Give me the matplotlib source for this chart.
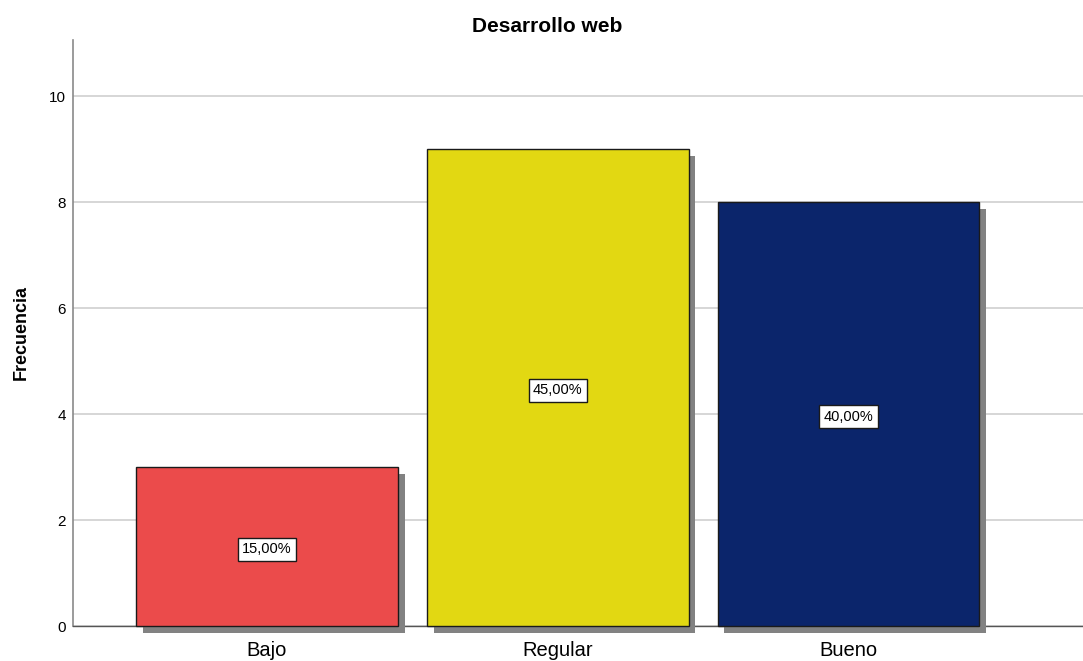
import matplotlib
matplotlib.use("Agg")
import matplotlib.pyplot as plt
import matplotlib.patheffects as pe

plt.rcParams['font.family'] = ['Liberation Sans', 'DejaVu Sans']

# datos de frecuencia
categorias = ["Bajo", "Regular", "Bueno"]
frecuencias = [3, 9, 8]
porcentajes = ["15,00%", "45,00%", "40,00%"]
colores = ["#EB4B4B", "#E2D812", "#0B256B"]

fig = plt.figure(figsize=(10.83, 6.61), dpi=100)
ax = fig.add_axes([73 / 1083, 35 / 661, 1 - 73 / 1083, 586 / 661])

pos = list(range(len(categorias)))
sombra = [pe.SimplePatchShadow(offset=(4.8, -5.0), shadow_rgbFace="#828282", alpha=1.0), pe.Normal()]
barras = ax.bar(pos, frecuencias, width=0.9, color=colores, edgecolor="#1a1a1a",
                linewidth=1.0, zorder=3)
for b in barras:
    b.set_path_effects(sombra)
    b.set_clip_on(False)

# etiquetas de porcentaje dentro de cada barra
for x, v, txt in zip(pos, frecuencias, porcentajes):
    ax.text(x, v / 2 - 0.05, txt, ha="center", va="center", fontsize=10.5, zorder=5,
            bbox=dict(boxstyle="square,pad=0.3", facecolor="white", edgecolor="#1a1a1a", linewidth=1.0))

ax.set_xlim(-0.667, 2.806)
ax.set_ylim(0, 11.06)
ax.set_yticks([0, 2, 4, 6, 8, 10])
ax.set_xticks(pos)
ax.set_xticklabels(categorias, fontsize=14.5)
ax.tick_params(axis="y", length=0, labelsize=11, pad=5)
ax.tick_params(axis="x", length=0, pad=11)
ax.yaxis.grid(True, color="#cfcfcf", linewidth=1.2, zorder=0)
ax.set_axisbelow(True)

for s in ["top", "right"]:
    ax.spines[s].set_visible(False)
ax.spines["left"].set_color("#8a8a8a")
ax.spines["left"].set_linewidth(1.2)
ax.spines["bottom"].set_color("#555555")
ax.spines["bottom"].set_linewidth(1.0)

ax.set_ylabel("Frecuencia", fontsize=13, fontweight="bold", labelpad=14)
fig.text(547 / 1083, 1 - 32 / 661, "Desarrollo web", ha="center", va="baseline",
         fontsize=15, fontweight="bold")

fig.savefig("out.png", dpi=100)
